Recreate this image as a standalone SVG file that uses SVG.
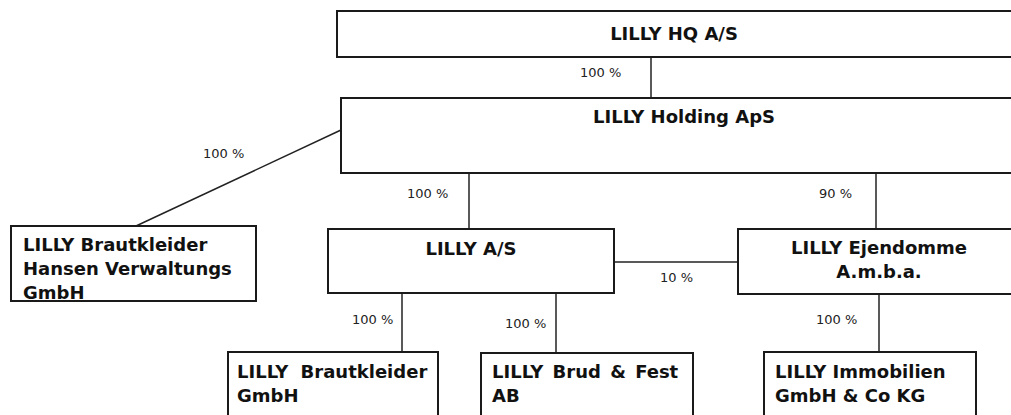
<svg xmlns="http://www.w3.org/2000/svg" width="1011" height="415" viewBox="0 0 1011 415">
<style>
.box{fill:#fff;stroke:#1a1a1a;stroke-width:2}
.name{font-family:"DejaVu Sans",Verdana,sans-serif;font-weight:bold;font-size:18px;fill:#111}
.pct{font-family:"DejaVu Sans",Verdana,sans-serif;font-size:13px;fill:#222}
.ln{stroke:#222;stroke-width:1.5;fill:none}
</style>
<rect width="1011" height="415" fill="#fff"/>
<g id="connectors">
<line class="ln" x1="651" y1="57" x2="651" y2="98"/>
<line class="ln" x1="341" y1="130" x2="136" y2="226"/>
<line class="ln" x1="469" y1="173" x2="469" y2="229"/>
<line class="ln" x1="876" y1="173" x2="876" y2="229"/>
<line class="ln" x1="614" y1="262" x2="738" y2="262"/>
<line class="ln" x1="402" y1="293" x2="402" y2="352"/>
<line class="ln" x1="556" y1="293" x2="556" y2="353"/>
<line class="ln" x1="879" y1="292" x2="879" y2="352"/>
<text class="pct" x="580" y="77">100 %</text>
<text class="pct" x="203" y="158">100 %</text>
<text class="pct" x="407" y="198">100 %</text>
<text class="pct" x="819" y="198">90 %</text>
<text class="pct" x="660" y="282">10 %</text>
<text class="pct" x="352" y="324">100 %</text>
<text class="pct" x="505" y="328">100 %</text>
<text class="pct" x="816" y="324">100 %</text>
</g>
<g id="hq">
<rect class="box" x="337" y="11" width="690" height="46"/>
<text class="name" x="674" y="40" text-anchor="middle">LILLY HQ A/S</text>
</g>
<g id="holding">
<rect class="box" x="341" y="98" width="686" height="75"/>
<text class="name" x="593" y="123">LILLY Holding ApS</text>
</g>
<g id="hansen">
<rect class="box" x="11" y="226" width="245" height="75"/>
<text class="name" x="23" y="251" font-size="17.5">LILLY Brautkleider</text>
<text class="name" x="23" y="275" font-size="17.5">Hansen Verwaltungs</text>
<text class="name" x="23" y="299" font-size="17.5">GmbH</text>
</g>
<g id="lilly-as">
<rect class="box" x="328" y="229" width="286" height="64"/>
<text class="name" x="471" y="255" text-anchor="middle">LILLY A/S</text>
</g>
<g id="ejendomme">
<rect class="box" x="738" y="229" width="290" height="65"/>
<text class="name" x="879" y="254" text-anchor="middle">LILLY Ejendomme</text>
<text class="name" x="879" y="278" text-anchor="middle">A.m.b.a.</text>
</g>
<g id="brautkleider-gmbh">
<rect class="box" x="228" y="352" width="210" height="70"/>
<text class="name" x="237" y="378" word-spacing="6">LILLY Brautkleider</text>
<text class="name" x="237" y="402">GmbH</text>
</g>
<g id="brud-fest">
<rect class="box" x="481" y="353" width="212" height="70"/>
<text class="name" x="492" y="378" word-spacing="3">LILLY Brud &amp; Fest</text>
<text class="name" x="492" y="402">AB</text>
</g>
<g id="immobilien">
<rect class="box" x="764" y="352" width="212" height="70"/>
<text class="name" x="775" y="378">LILLY Immobilien</text>
<text class="name" x="775" y="402">GmbH &amp; Co KG</text>
</g>
</svg>
